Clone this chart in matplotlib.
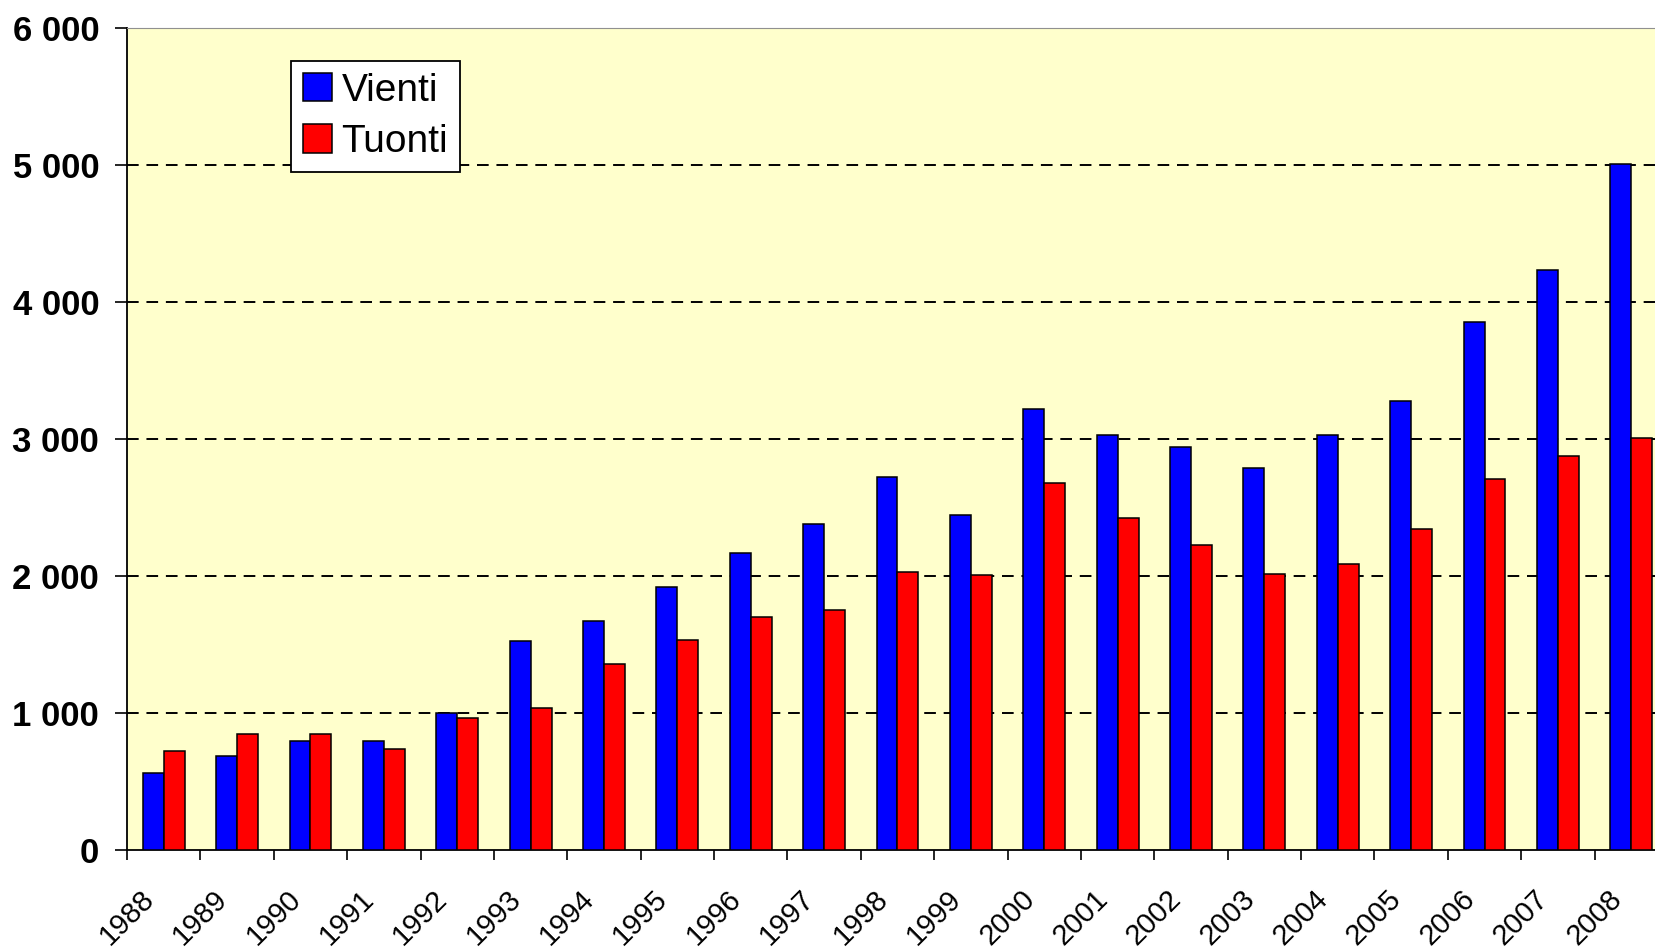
import matplotlib.pyplot as plt
import matplotlib.transforms as mtransforms
import numpy as np

years = ['1988', '1989', '1990', '1991', '1992', '1993', '1994', '1995', '1996', '1997', '1998',
         '1999', '2000', '2001', '2002', '2003', '2004', '2005', '2006', '2007', '2008']
vienti = [560, 685, 795, 795, 1000, 1525, 1675, 1920, 2170, 2380, 2720,
          2445, 3220, 3030, 2945, 2790, 3030, 3275, 3855, 4230, 5010]
tuonti = [725, 850, 850, 740, 960, 1040, 1355, 1535, 1700, 1755, 2030,
          2005, 2680, 2420, 2225, 2015, 2090, 2340, 2705, 2875, 3010]
yticks = [0, 1000, 2000, 3000, 4000, 5000, 6000]
ytick_labels = ['0', '1 000', '2 000', '3 000', '4 000', '5 000', '6 000']

plt.rcParams['font.family'] = ['Liberation Sans', 'DejaVu Sans']

fig = plt.figure(figsize=(16.56, 9.47), dpi=100)
# plot area runs a little past the right edge, like the cropped original
ax = fig.add_axes([127/1656, 1 - 850/947, 1541/1656, 822/947])
ax.set_facecolor('#FFFFCC')

x = np.arange(len(years))
w = 0.285
ax.bar(x - w/2, vienti, w, color='#0000FF', edgecolor='black', linewidth=1.1, label='Vienti', zorder=3)
ax.bar(x + w/2, tuonti, w, color='#FF0000', edgecolor='black', linewidth=1.1, label='Tuonti', zorder=3)

ax.set_xlim(-0.5, len(years) - 0.5)
ax.set_ylim(0, 6000)

for v in yticks[1:-1]:
    ax.axhline(v, color='black', lw=1.4, dashes=(6, 4), zorder=1)

ax.set_yticks(yticks)
ax.set_yticklabels(ytick_labels, fontsize=25, fontweight='bold')
ax.tick_params(axis='y', direction='out', length=9, width=1.2, pad=11)

# ticks between categories, labels at the centres
ax.set_xticks(np.arange(len(years) + 1) - 0.5, minor=True)
ax.set_xticks(x)
ax.set_xticklabels(years, rotation=45, ha='right', rotation_mode='anchor', fontsize=21)
ax.tick_params(axis='x', which='major', length=0, pad=25)
ax.tick_params(axis='x', which='minor', direction='out', length=7, width=1.2)
shift = mtransforms.ScaledTranslation(-0.24, 0, fig.dpi_scale_trans)
for lab in ax.get_xticklabels():
    lab.set_transform(lab.get_transform() + shift)

for s in ['left', 'bottom']:
    ax.spines[s].set_linewidth(1.3)
ax.spines['top'].set_color('#909090')
ax.spines['right'].set_visible(False)

leg = ax.legend(loc='upper left', bbox_to_anchor=(291/1656, 1 - 61/947), bbox_transform=fig.transFigure,
                fontsize=28, fancybox=False, framealpha=1, edgecolor='black',
                handlelength=0.75, handleheight=0.75, handletextpad=0.25, borderpad=0.3,
                labelspacing=0.4, borderaxespad=0)
leg.get_frame().set_linewidth(1.3)

fig.savefig('out.png', dpi=100)
